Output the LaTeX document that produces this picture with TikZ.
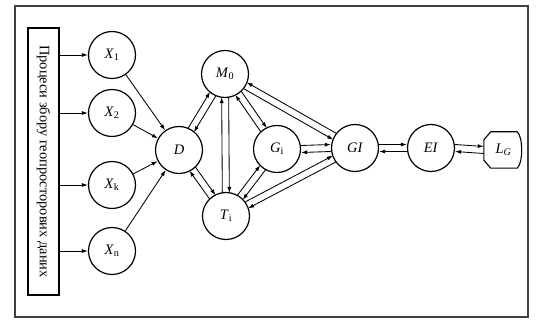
\documentclass[tikz,border=0pt]{standalone}
\usepackage{fontspec}
\setmainfont{Liberation Serif}
\usetikzlibrary{arrows.meta,calc}
\newcommand\lab[2]{\textit{#1}\textsubscript{#2}}
\newcommand\parr[3]{\draw[arr] ($(#1)!3.5pt!#3:(#2)$) -- ($(#2)!3.5pt!-#3:(#1)$);}
\newcommand\parrR[2]{\draw[arr] ($(#1)!3.5pt!-90:(#2)$) -- ($(#2)!3.5pt!90:(#1)$);}
\begin{document}
\begin{tikzpicture}[x=1pt,y=-1pt,
  st/.style={circle,draw,line width=1.2pt,minimum size=47pt,inner sep=0pt,font=\fontsize{14.5}{16}\selectfont},
  tip/.style={-{Latex[length=6pt,width=4pt]}},
  arr/.style={tip,line width=0.85pt,shorten <=23pt,shorten >=23pt},
  harr/.style={tip,line width=0.85pt},
  frame/.style={line width=1.5pt,draw=black!75}]
\useasboundingbox (0,0) rectangle (539,323);
\draw[frame] (15,6) rectangle (528,317);
\node[draw,line width=1.1pt,minimum width=31pt,minimum height=267pt,inner sep=0pt] (src) at (43.5,161.5) {};
\node[rotate=-90,font=\fontsize{14.4}{16}\selectfont] (srct) at (src.center) {Процеси збору геопросторових даних};
\node[st] (X1) at (112,55) {\lab{X}{1}};
\node[st] (X2) at (112,113) {\lab{X}{2}};
\node[st] (Xk) at (112,185) {\lab{X}{k}};
\node[st] (Xn) at (112,251) {\lab{X}{n}};
\node[st] (D) at (179,150) {\textit{D}};
\node[st] (M0) at (225,74) {\lab{M}{0}};
\node[st] (Ti) at (226,216) {\lab{T}{i}};
\node[st] (Gi) at (277,149) {\lab{G}{i}};
\node[st] (GI) at (355,148) {\textit{GI}};
\node[st] (EI) at (431,148) {\textit{EI}};
\node[minimum width=39pt,minimum height=36pt,inner sep=0pt,font=\fontsize{14.5}{16}\selectfont] (LG) at (503.5,150) {\textit{L}\textsubscript{\textit{G}}};
\draw[line width=1.1pt] ($(LG.north west)+(7,0)$) -- ($(LG.north east)+(-6,0)$)
  .. controls ($(LG.north east)+(0,5)$) and ($(LG.south east)+(0,-5)$) .. ($(LG.south east)+(-6,0)$)
  -- ($(LG.south west)+(7,0)$) -- ($(LG.south west)+(0,-8)$) -- ($(LG.north west)+(0,8)$) -- cycle;
\foreach \n in {X1,X2,Xk,Xn}{\draw[harr] (src.east |- \n) -- (\n);}
\foreach \n in {X1,X2,Xk,Xn}{\draw[harr] (\n) -- (D);}
\parr{D}{M0}{90}\parr{M0}{D}{90}
\parr{D}{Ti}{90}\parr{Ti}{D}{90}
\parr{M0}{Ti}{90}\parr{Ti}{M0}{90}
\parr{M0}{Gi}{90}\parr{Gi}{M0}{90}
\parr{Ti}{Gi}{90}\parr{Gi}{Ti}{90}
\parrR{M0}{GI}\parrR{GI}{M0}
\parr{Ti}{GI}{90}\parr{GI}{Ti}{90}
\draw[harr] ([yshift=3.5pt]Gi.east) -- ([yshift=3.5pt]GI.west);
\draw[harr] ([yshift=-3.5pt]GI.west) -- ([yshift=-3.5pt]Gi.east);
\draw[harr] ([yshift=3.5pt]GI.east) -- ([yshift=3.5pt]EI.west);
\draw[harr] ([yshift=-3.5pt]EI.west) -- ([yshift=-3.5pt]GI.east);
\draw[harr] ([yshift=3.5pt]EI.east) -- ([yshift=3.5pt]LG.west);
\draw[harr] ([yshift=-3.5pt]LG.west) -- ([yshift=-3.5pt]EI.east);
\end{tikzpicture}
\end{document}
